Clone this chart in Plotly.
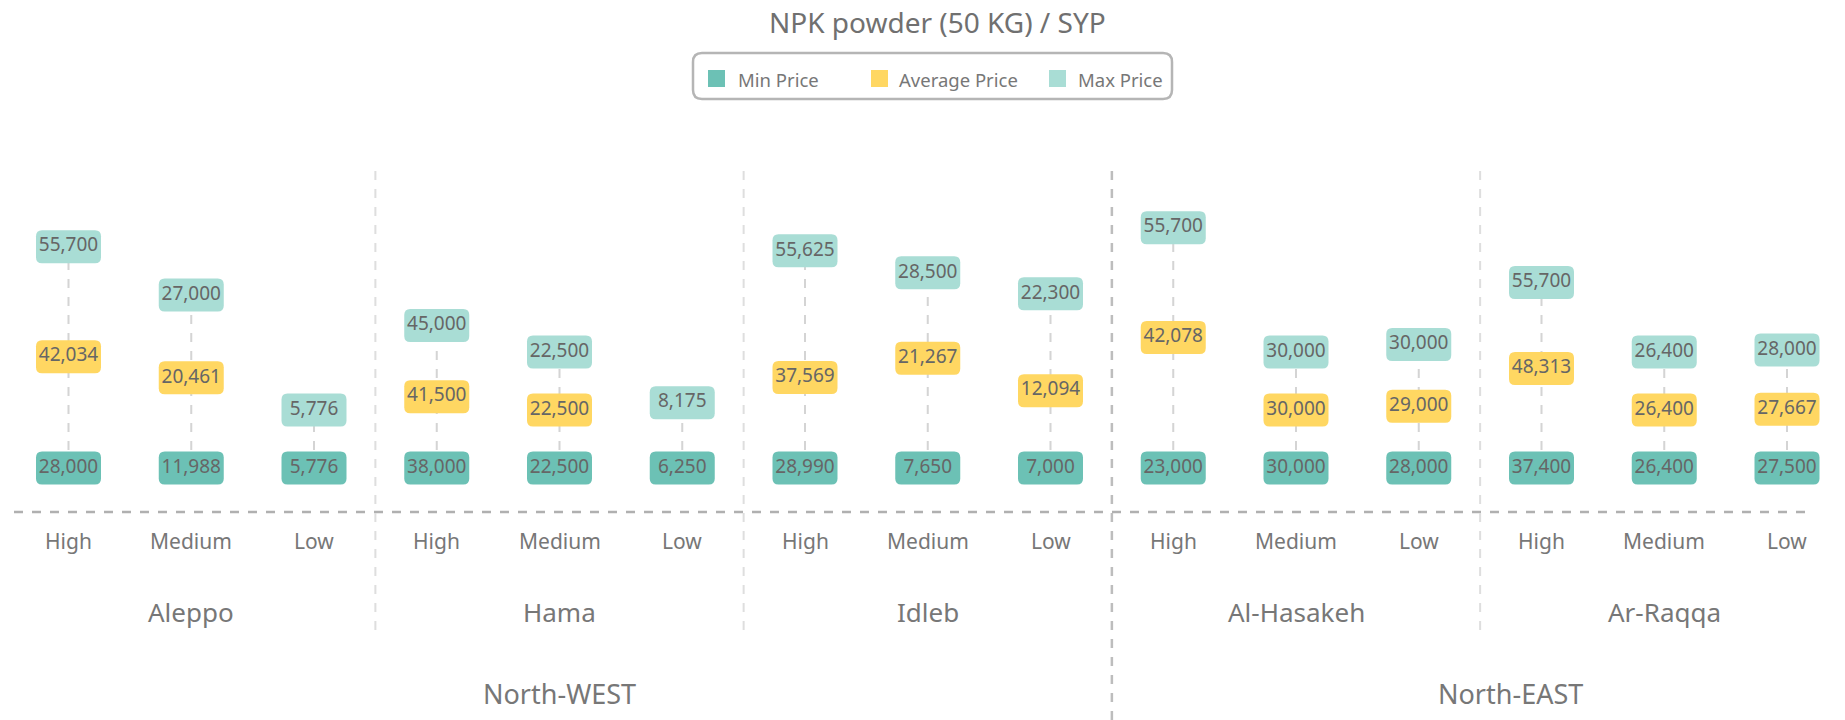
import plotly.graph_objects as go

# prices in SYP for NPK powder (50 KG)
regions = ["Aleppo", "Hama", "Idleb", "Al-Hasakeh", "Ar-Raqqa"]
levels = ["High", "Medium", "Low"]
macro_regions = ["North-WEST", "North-EAST"]
macro_members = [["Aleppo", "Hama", "Idleb"], ["Al-Hasakeh", "Ar-Raqqa"]]

min_price = [28000, 11988, 5776, 38000, 22500, 6250, 28990, 7650, 7000,
             23000, 30000, 28000, 37400, 26400, 27500]
avg_price = [42034, 20461, None, 41500, 22500, None, 37569, 21267, 12094,
             42078, 30000, 29000, 48313, 26400, 27667]
max_price = [55700, 27000, 5776, 45000, 22500, 8175, 55625, 28500, 22300,
             55700, 30000, 30000, 55700, 26400, 28000]

MIN_COLOR = "#6cc1b5"
AVG_COLOR = "#ffd762"
MAX_COLOR = "#a9ddd5"
TEXT_COLOR = "#666666"
LABEL_COLOR = "#777777"
FONT = "Noto Sans"

# body margin is removed below, so the figure fills the 1845x720 page
W, H = 1845, 720
PX_PER_SYP = 3.8 / 1000      # vertical scale of the label stack
GAP = 58 / PX_PER_SYP        # spacing between stacked labels, in SYP
BASE_PX = 468                # pixel row of the min labels

# stacked label layout: min row at 0, avg and max stacked above by price difference
x_idx = list(range(len(min_price)))
y_min, y_avg, y_max = [], [], []
for lo, av, hi in zip(min_price, avg_price, max_price):
    y_min.append(0)
    if av is None:
        y_avg.append(None)
        y_max.append(GAP + (hi - lo))
    else:
        ya = GAP + (av - lo)
        y_avg.append(ya)
        y_max.append(ya + GAP + (hi - av))


def fmt(v):
    return "" if v is None else f"{v:,}"


def paper_x(px):
    return px / W


def paper_y(py):
    return (H - py) / H


def rounded_path(hw, hh, r):
    return (f"M {-hw + r},{-hh} L {hw - r},{-hh} Q {hw},{-hh} {hw},{-hh + r} "
            f"L {hw},{hh - r} Q {hw},{hh} {hw - r},{hh} L {-hw + r},{hh} "
            f"Q {-hw},{hh} {-hw},{hh - r} L {-hw},{-hh + r} Q {-hw},{-hh} {-hw + r},{-hh} Z")


shapes = []

# dashed connectors min -> max
for i in x_idx:
    shapes.append(dict(type="line", layer="below", xref="x", yref="y",
                       x0=i, x1=i, y0=y_min[i], y1=y_max[i],
                       line=dict(color="#d4d4d4", width=2, dash="dash")))

# label boxes
box = rounded_path(32.5, 16.5, 6)
for ys, vals, col in [(y_min, min_price, MIN_COLOR), (y_avg, avg_price, AVG_COLOR),
                      (y_max, max_price, MAX_COLOR)]:
    for i in x_idx:
        if vals[i] is None:
            continue
        shapes.append(dict(type="path", layer="below", xref="x", yref="y",
                           xsizemode="pixel", ysizemode="pixel",
                           xanchor=i, yanchor=ys[i], path=box,
                           fillcolor=col, line=dict(width=0)))

# horizontal dashed baseline
shapes.append(dict(type="line", xref="x", yref="paper", x0=-0.444, x1=14.17,
                   y0=paper_y(512), y1=paper_y(512),
                   line=dict(color="#b0b0b0", width=2.5, dash="dash")))

# region separators
for k in range(1, len(regions)):
    xs = k * 3 - 0.5
    dark = regions[k] == macro_members[1][0]
    shapes.append(dict(type="line", xref="x", yref="paper", x0=xs, x1=xs,
                       y0=paper_y(720 if dark else 630), y1=paper_y(168),
                       line=dict(color="#bdbdbd" if dark else "#dedede",
                                 width=2.5 if dark else 2, dash="dash")))

fig = go.Figure()

for ys, vals, name in [(y_min, min_price, "Min Price"), (y_avg, avg_price, "Average Price"),
                       (y_max, max_price, "Max Price")]:
    fig.add_trace(go.Scatter(x=x_idx, y=ys, mode="text", name=name,
                             text=[fmt(v) for v in vals],
                             textfont=dict(family=FONT, size=19, color=TEXT_COLOR),
                             hoverinfo="skip", showlegend=False))

annotations = []
# level labels
for i in x_idx:
    annotations.append(dict(x=i, y=paper_y(541), xref="x", yref="paper",
                            xanchor="center", yanchor="middle",
                            text=levels[i % 3], showarrow=False,
                            font=dict(family=FONT, size=21, color=LABEL_COLOR)))
# region labels
for k, r in enumerate(regions):
    annotations.append(dict(x=k * 3 + 1, y=paper_y(612), xref="x", yref="paper",
                            xanchor="center", yanchor="middle",
                            text=r, showarrow=False,
                            font=dict(family=FONT, size=26, color=LABEL_COLOR)))
# macro region labels
for m, members in zip(macro_regions, macro_members):
    cols = [regions.index(r) * 3 + j for r in members for j in range(3)]
    annotations.append(dict(x=sum(cols) / len(cols) + (0.25 if m == "North-EAST" else 0),
                            y=paper_y(693), xref="x", yref="paper",
                            xanchor="center", yanchor="middle",
                            text=m, showarrow=False,
                            font=dict(family=FONT, size=27, color=LABEL_COLOR)))

# title
annotations.append(dict(x=paper_x(937), y=paper_y(22), xref="paper", yref="paper",
                        xanchor="center", yanchor="middle",
                        text="NPK powder (50 KG) / SYP", showarrow=False,
                        font=dict(family=FONT, size=28, color="#707070")))

# manual legend with rounded frame
lx0, lx1, ly0, ly1, lr = 693, 1172, 53, 99, 9
px0, px1, pxr = paper_x(lx0), paper_x(lx1), lr / W
py0, py1, pyr = paper_y(ly0), paper_y(ly1), lr / H
shapes.append(dict(type="path", xref="paper", yref="paper",
                   path=(f"M {px0 + pxr},{py0} L {px1 - pxr},{py0} Q {px1},{py0} {px1},{py0 - pyr} "
                         f"L {px1},{py1 + pyr} Q {px1},{py1} {px1 - pxr},{py1} "
                         f"L {px0 + pxr},{py1} Q {px0},{py1} {px0},{py1 + pyr} "
                         f"L {px0},{py0 - pyr} Q {px0},{py0} {px0 + pxr},{py0} Z"),
                   line=dict(color="#b5b5b5", width=2.5), fillcolor="rgba(0,0,0,0)"))
for sx, tx, col, name in [(708, 736, MIN_COLOR, "Min Price"),
                          (871, 897, AVG_COLOR, "Average Price"),
                          (1049, 1076, MAX_COLOR, "Max Price")]:
    shapes.append(dict(type="rect", xref="paper", yref="paper",
                       x0=paper_x(sx), x1=paper_x(sx + 17), y0=paper_y(70), y1=paper_y(87),
                       fillcolor=col, line=dict(width=0)))
    annotations.append(dict(x=paper_x(tx), y=paper_y(79), xref="paper", yref="paper",
                            xanchor="left", yanchor="middle", text=name, showarrow=False,
                            font=dict(family=FONT, size=18.5, color=LABEL_COLOR)))

ppx = (1787 - 68.5) / 14
x_first = 68.5
fig.update_layout(
    width=W, height=H,
    margin=dict(l=0, r=0, t=0, b=0),
    plot_bgcolor="white", paper_bgcolor="white",
    xaxis=dict(range=[-x_first / ppx, (W - x_first) / ppx], visible=False, fixedrange=True),
    yaxis=dict(range=[-(H - BASE_PX) / PX_PER_SYP, BASE_PX / PX_PER_SYP],
               visible=False, fixedrange=True),
    shapes=shapes,
    annotations=annotations,
    showlegend=False,
)

fig.write_html("out.html", config={"displayModeBar": False},
               post_script="document.body.style.margin='0';document.body.style.overflow='hidden';")
